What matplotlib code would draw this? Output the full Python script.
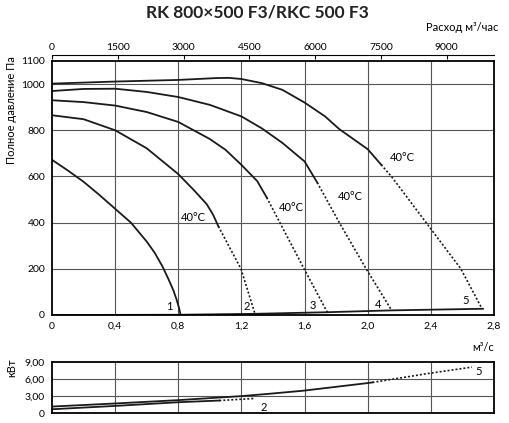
import matplotlib
matplotlib.use("Agg")
from matplotlib import pyplot as plt
from matplotlib.ticker import FixedLocator, FuncFormatter

plt.rcParams['font.family'] = ['Lato', 'DejaVu Sans']

# pressure curves, m3/s vs Pa (solid part and dotted 40°C part)
c1_x = [0, 0.1, 0.2, 0.3, 0.4, 0.5, 0.6, 0.65, 0.7, 0.74, 0.77, 0.79, 0.805, 0.815]
c1_y = [672, 626, 577, 520, 460, 400, 318, 270, 210, 152, 105, 65, 30, 0]

c2_x = [0, 0.2, 0.4, 0.6, 0.8, 0.9, 0.98, 1.02, 1.054]
c2_y = [865, 848, 800, 722, 610, 540, 480, 435, 384]
c2d_x = [1.054, 1.197, 1.285]
c2d_y = [384, 200, 7]

c3_x = [0, 0.2, 0.4, 0.6, 0.8, 1.0, 1.1, 1.2, 1.3, 1.36]
c3_y = [930, 922, 907, 879, 836, 762, 715, 650, 580, 509]
c3d_x = [1.36, 1.6, 1.744]
c3d_y = [509, 196, 12]

c4_x = [0, 0.2, 0.4, 0.6, 0.8, 1.0, 1.2, 1.33, 1.46, 1.6, 1.68]
c4_y = [970, 979, 980, 966, 944, 910, 860, 808, 745, 665, 574]
c4d_x = [1.68, 1.82, 1.99, 2.15]
c4d_y = [574, 400, 200, 22]

c5_x = [0, 0.4, 0.8, 1.04, 1.12, 1.2, 1.33, 1.46, 1.6, 1.73, 1.82, 2.0, 2.085]
c5_y = [1002, 1011, 1018, 1026, 1027, 1022, 1004, 975, 920, 860, 805, 718, 651]
c5d_x = [2.085, 2.15, 2.37, 2.59, 2.725]
c5d_y = [651, 600, 400, 200, 26]

sys_x = [0, 0.8, 1.28, 1.74, 2.15, 2.73]
sys_y = [0, 1, 5, 12, 20, 27]

# power curves, kW
p5_x = [0, 0.4, 0.8, 1.2, 1.38, 1.59, 1.99, 2.03]
p5_y = [1.14, 1.68, 2.27, 2.98, 3.4, 3.93, 5.25, 5.4]
p5d_x = [2.03, 2.39, 2.66]
p5d_y = [5.4, 7.0, 8.1]

p2_x = [0, 0.4, 0.8, 1.06]
p2_y = [0.66, 1.25, 1.9, 2.2]
p2d_x = [1.06, 1.28]
p2d_y = [2.2, 2.56]

temp_labels = [(0.893, 423), (1.513, 464), (1.887, 514), (2.221, 680)]
num_labels = [("1", 0.742, 35), ("2", 1.234, 36), ("3", 1.654, 39),
              ("4", 2.066, 46), ("5", 2.622, 64)]

x_ticks = [0, 0.4, 0.8, 1.2, 1.6, 2.0, 2.4, 2.8]
p_ticks = [0, 200, 400, 600, 800, 1000, 1100]
kw_ticks = [0, 3, 6, 9]
top_ticks = [0, 1500, 3000, 4500, 6000, 7500, 9000]

W, H = 509, 423
fig = plt.figure(figsize=(W / 100, H / 100), dpi=100)

ax = fig.add_axes([52 / W, 1 - 315 / H, 442 / W, 254 / H])
ax2 = fig.add_axes([52 / W, 1 - 413 / H, 442 / W, 51 / H])

grid_kw = dict(color='#555555', lw=0.8)
line_kw = dict(color='#1a1a1a', lw=1.3, solid_joinstyle='round')
dot_kw = dict(color='#1a1a1a', lw=1.2, ls=(0, (1.2, 1.2)))

ax.set_xlim(0, 2.8)
ax.set_ylim(0, 1100)
for v in x_ticks[1:-1]:
    ax.axvline(v, **grid_kw)
for v in [200, 400, 600, 800, 1000]:
    ax.axhline(v, **grid_kw)

ax.plot(c1_x, c1_y, **line_kw)
for sx, sy, dx, dy in [(c2_x, c2_y, c2d_x, c2d_y), (c3_x, c3_y, c3d_x, c3d_y),
                       (c4_x, c4_y, c4d_x, c4d_y), (c5_x, c5_y, c5d_x, c5d_y)]:
    ax.plot(sx, sy, **line_kw)
    ax.plot(dx, dy, **dot_kw)
ax.plot(sys_x, sys_y, **line_kw)

for tx, ty in temp_labels:
    ax.text(tx, ty, "40°C", fontsize=8, ha='center', va='center')
for s, tx, ty in num_labels:
    ax.text(tx, ty, s, fontsize=8, ha='center', va='center')

ax.xaxis.set_major_locator(FixedLocator(x_ticks))
ax.xaxis.set_major_formatter(FuncFormatter(lambda v, p: "0" if v == 0 else ("%.1f" % v).replace('.', ',')))
ax.yaxis.set_major_locator(FixedLocator(p_ticks))
ax.tick_params(length=0, labelsize=7.5, pad=5)
for s in ax.spines.values():
    s.set_linewidth(1.3)

top = ax.secondary_xaxis('top', functions=(lambda v: v * 3600, lambda v: v / 3600))
top.set_xticks(top_ticks)
top.tick_params(direction='in', length=3, width=0.8, labelsize=7.5, pad=2)
top.spines['top'].set_position(('outward', 4.5))
top.spines['top'].set_linewidth(0.8)

ax.text(1.01, 1.13, "Расход м³/час", transform=ax.transAxes, fontsize=8,
        ha='right', va='center')
ax.text(0.975, -0.126, "м³/с", transform=ax.transAxes, fontsize=8,
        ha='center', va='center')
fig.text(12 / W, 1 - 110 / H, "Полное давление Па", rotation=90, fontsize=8,
         ha='center', va='center')

# power panel
ax2.set_xlim(0, 2.8)
ax2.set_ylim(0, 9)
for v in x_ticks[1:-1]:
    ax2.axvline(v, **grid_kw)
for v in [3, 6]:
    ax2.axhline(v, **grid_kw)
ax2.plot(p5_x, p5_y, **line_kw)
ax2.plot(p5d_x, p5d_y, **dot_kw)
ax2.plot(p2_x, p2_y, **line_kw)
ax2.plot(p2d_x, p2d_y, **dot_kw)
ax2.text(2.7, 7.4, "5", fontsize=8, ha='center', va='center')
ax2.text(1.34, 1.0, "2", fontsize=8, ha='center', va='center')
ax2.set_xticks([])
ax2.yaxis.set_major_locator(FixedLocator(kw_ticks))
ax2.yaxis.set_major_formatter(FuncFormatter(lambda v, p: "0" if v == 0 else ("%.2f" % v).replace('.', ',')))
ax2.tick_params(length=0, labelsize=7.5, pad=5)
for s in ax2.spines.values():
    s.set_linewidth(1.3)
fig.text(12 / W, 1 - 368 / H, "кВт", rotation=90, fontsize=8,
         ha='center', va='center')

fig.text(0.505, 1 - 13 / H, "RK 800×500 F3/RKC 500 F3", fontsize=12.5,
         fontweight='bold', ha='center', va='center', color='#222222')

fig.savefig("out.png", dpi=100)
